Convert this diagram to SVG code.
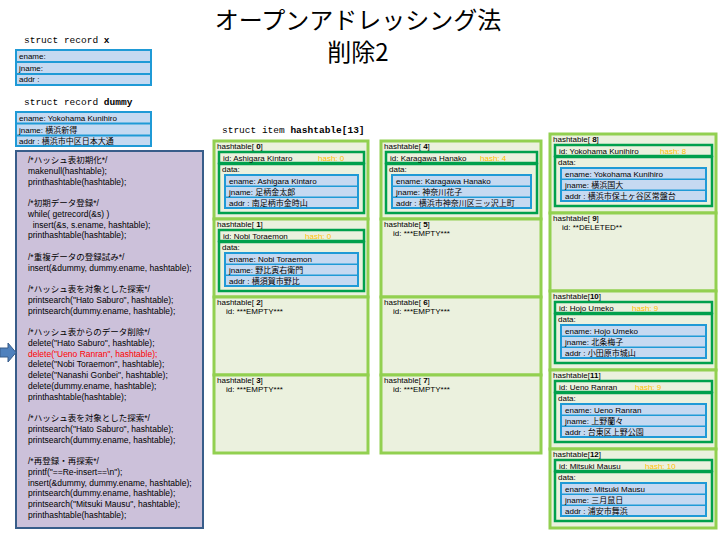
<svg xmlns="http://www.w3.org/2000/svg" width="720" height="540" viewBox="0 0 720 540">
<style>
.t{font-family:"Liberation Sans","Noto Sans CJK JP",sans-serif;font-size:8px;fill:#000}
.c{font-family:"Liberation Sans","Noto Sans CJK JP",sans-serif;font-size:8.5px;fill:#000}
.m{font-family:"Liberation Mono","Noto Sans CJK JP",monospace;font-size:9.5px;fill:#000}
.b{font-weight:bold}
.h{fill:#ffc000}
.red{fill:#ff0000}
.slot{fill:#ebf1de;stroke:#92d050;stroke-width:3}
.g{fill:#ebf1de;stroke:#00a04c;stroke-width:2.5}
.bl{fill:#1f9ad6}
.row{fill:#c5d9f1}
.code{fill:#ccc1da;stroke:#385d8a;stroke-width:2}
.title{font-family:"Noto Sans CJK JP",sans-serif;font-size:24px;fill:#000}
</style>
<rect width="720" height="540" fill="#fff"/>
<g id="title">
<text class="title" x="358" y="29" text-anchor="middle">オープンアドレッシング法</text>
<text class="title" x="358" y="61" text-anchor="middle">削除2</text>
</g>
<g id="record-x">
<text class="m" x="24" y="43">struct record <tspan class="b">x</tspan></text>
<rect class="bl" x="15" y="49" width="137" height="37"/>
<rect class="row" x="17" y="51" width="133" height="10"/>
<rect class="row" x="17" y="63" width="133" height="10"/>
<rect class="row" x="17" y="75" width="133" height="9"/>
<text class="t" x="19" y="59">ename:</text>
<text class="t" x="19" y="71">jname:</text>
<text class="t" x="19" y="82">addr :</text>
</g>
<g id="record-dummy">
<text class="m" x="24" y="105">struct record <tspan class="b">dummy</tspan></text>
<rect class="bl" x="15" y="111" width="137" height="36"/>
<rect class="row" x="17" y="113" width="133" height="9.5"/>
<rect class="row" x="17" y="124.5" width="133" height="10"/>
<rect class="row" x="17" y="136.5" width="133" height="8.5"/>
<text class="t" x="19" y="121">ename: Yokohama Kunihiro</text>
<text class="t" x="19" y="132.5">jname: 横浜新得</text>
<text class="t" x="19" y="143.5">addr : 横浜市中区日本大通</text>
</g>
<g id="code">
<rect class="code" x="16" y="151" width="187" height="377"/>
<text class="c" x="28" y="163">/*ハッシュ表初期化*/</text>
<text class="c" x="28" y="173.75">makenull(hashtable);</text>
<text class="c" x="28" y="184.5">printhashtable(hashtable);</text>
<text class="c" x="28" y="206">/*初期データ登録*/</text>
<text class="c" x="28" y="216.75">while( getrecord(&amp;s) )</text>
<text class="c" x="28" y="227.5" xml:space="preserve">  insert(&amp;s, s.ename, hashtable);</text>
<text class="c" x="28" y="238.25">printhashtable(hashtable);</text>
<text class="c" x="28" y="259.75">/*重複データの登録試み*/</text>
<text class="c" x="28" y="270.5">insert(&amp;dummy, dummy.ename, hashtable);</text>
<text class="c" x="28" y="292">/*ハッシュ表を対象とした探索*/</text>
<text class="c" x="28" y="302.75">printsearch("Hato Saburo", hashtable);</text>
<text class="c" x="28" y="313.5">printsearch(dummy.ename, hashtable);</text>
<text class="c" x="28" y="335">/*ハッシュ表からのデータ削除*/</text>
<text class="c" x="28" y="345.75">delete("Hato Saburo", hashtable);</text>
<text class="c red" x="28" y="356.5">delete("Ueno Ranran", hashtable);</text>
<text class="c" x="28" y="367.25">delete("Nobi Toraemon", hashtable);</text>
<text class="c" x="28" y="378">delete("Nanashi Gonbei", hashtable);</text>
<text class="c" x="28" y="388.75">delete(dummy.ename, hashtable);</text>
<text class="c" x="28" y="399.5">printhashtable(hashtable);</text>
<text class="c" x="28" y="421">/*ハッシュ表を対象とした探索*/</text>
<text class="c" x="28" y="431.75">printsearch("Hato Saburo", hashtable);</text>
<text class="c" x="28" y="442.5">printsearch(dummy.ename, hashtable);</text>
<text class="c" x="28" y="464">/*再登録・再探索*/</text>
<text class="c" x="28" y="474.75">printf("==Re-insert==\n");</text>
<text class="c" x="28" y="485.5">insert(&amp;dummy, dummy.ename, hashtable);</text>
<text class="c" x="28" y="496.25">printsearch(dummy.ename, hashtable);</text>
<text class="c" x="28" y="507">printsearch("Mitsuki Mausu", hashtable);</text>
<text class="c" x="28" y="517.75">printhashtable(hashtable);</text>
</g>
<g id="connectors">
<path d="M0,348 H8 V343 L16,352.5 L8,362 V357 H0 Z" fill="#4f81bd" stroke="#385d8a" stroke-width="1"/>
</g>
<text class="m" x="222" y="133">struct item <tspan class="b">hashtable[13]</tspan></text>
<g id="slot0" transform="translate(214,141)">
<rect class="slot" width="154" height="78"/>
<text class="t" x="3" y="8">hashtable[ <tspan class="b">0</tspan>]</text>
<rect class="g" x="5" y="11" width="145" height="11"/>
<text class="t" x="9" y="19.5">id: Ashigara Kintaro</text><text class="t h" x="104" y="19.5">hash: 0</text>
<rect class="g" x="5" y="23" width="145" height="49"/>
<text class="t" x="8" y="31">data:</text>
<rect class="bl" x="10" y="33" width="135" height="35"/>
<rect class="row" x="12" y="35" width="131" height="9.5"/>
<rect class="row" x="12" y="46" width="131" height="9.5"/>
<rect class="row" x="12" y="57" width="131" height="9"/>
<text class="t" x="15" y="42.5">ename: Ashigara Kintaro</text>
<text class="t" x="15" y="53.5">jname: 足柄金太郎</text>
<text class="t" x="15" y="64.5">addr : 南足柄市金時山</text>
</g>
<g id="slot1" transform="translate(214,219)">
<rect class="slot" width="154" height="78"/>
<text class="t" x="3" y="8">hashtable[ <tspan class="b">1</tspan>]</text>
<rect class="g" x="5" y="11" width="145" height="11"/>
<text class="t" x="9" y="19.5">id: Nobi Toraemon</text><text class="t h" x="91" y="19.5">hash: 0</text>
<rect class="g" x="5" y="23" width="145" height="49"/>
<text class="t" x="8" y="31">data:</text>
<rect class="bl" x="10" y="33" width="135" height="35"/>
<rect class="row" x="12" y="35" width="131" height="9.5"/>
<rect class="row" x="12" y="46" width="131" height="9.5"/>
<rect class="row" x="12" y="57" width="131" height="9"/>
<text class="t" x="15" y="42.5">ename: Nobi Toraemon</text>
<text class="t" x="15" y="53.5">jname: 野比寅右衛門</text>
<text class="t" x="15" y="64.5">addr : 横須賀市野比</text>
</g>
<g id="slot2" transform="translate(214,297)">
<rect class="slot" width="154" height="78"/>
<text class="t" x="3" y="8">hashtable[ <tspan class="b">2</tspan>]</text>
<text class="t" x="12" y="17">id: ***EMPTY***</text>
</g>
<g id="slot3" transform="translate(214,375)">
<rect class="slot" width="154" height="78"/>
<text class="t" x="3" y="8">hashtable[ <tspan class="b">3</tspan>]</text>
<text class="t" x="12" y="17">id: ***EMPTY***</text>
</g>
<g id="slot4" transform="translate(381,141)">
<rect class="slot" width="160" height="78"/>
<text class="t" x="3" y="8">hashtable[ <tspan class="b">4</tspan>]</text>
<rect class="g" x="5" y="11" width="151" height="11"/>
<text class="t" x="9" y="19.5">id: Karagawa Hanako</text><text class="t h" x="99" y="19.5">hash: 4</text>
<rect class="g" x="5" y="23" width="151" height="49"/>
<text class="t" x="8" y="31">data:</text>
<rect class="bl" x="10" y="33" width="141" height="35"/>
<rect class="row" x="12" y="35" width="137" height="9.5"/>
<rect class="row" x="12" y="46" width="137" height="9.5"/>
<rect class="row" x="12" y="57" width="137" height="9"/>
<text class="t" x="15" y="42.5">ename: Karagawa Hanako</text>
<text class="t" x="15" y="53.5">jname: 神奈川花子</text>
<text class="t" x="15" y="64.5">addr : 横浜市神奈川区三ッ沢上町</text>
</g>
<g id="slot5" transform="translate(381,219)">
<rect class="slot" width="160" height="78"/>
<text class="t" x="3" y="8">hashtable[ <tspan class="b">5</tspan>]</text>
<text class="t" x="12" y="17">id: ***EMPTY***</text>
</g>
<g id="slot6" transform="translate(381,297)">
<rect class="slot" width="160" height="78"/>
<text class="t" x="3" y="8">hashtable[ <tspan class="b">6</tspan>]</text>
<text class="t" x="12" y="17">id: ***EMPTY***</text>
</g>
<g id="slot7" transform="translate(381,375)">
<rect class="slot" width="160" height="78"/>
<text class="t" x="3" y="8">hashtable[ <tspan class="b">7</tspan>]</text>
<text class="t" x="12" y="17">id: ***EMPTY***</text>
</g>
<g id="slot8" transform="translate(550,134)">
<rect class="slot" width="166" height="79"/>
<text class="t" x="3" y="8">hashtable[ <tspan class="b">8</tspan>]</text>
<rect class="g" x="5" y="11" width="157" height="11"/>
<text class="t" x="9" y="19.5">id: Yokohama Kunihiro</text><text class="t h" x="110" y="19.5">hash: 8</text>
<rect class="g" x="5" y="23" width="157" height="49"/>
<text class="t" x="8" y="31">data:</text>
<rect class="bl" x="10" y="33" width="147" height="35"/>
<rect class="row" x="12" y="35" width="143" height="9.5"/>
<rect class="row" x="12" y="46" width="143" height="9.5"/>
<rect class="row" x="12" y="57" width="143" height="9"/>
<text class="t" x="15" y="42.5">ename: Yokohama Kunihiro</text>
<text class="t" x="15" y="53.5">jname: 横浜国大</text>
<text class="t" x="15" y="64.5">addr : 横浜市保土ヶ谷区常盤台</text>
</g>
<g id="slot9" transform="translate(550,213)">
<rect class="slot" width="166" height="78"/>
<text class="t" x="3" y="8">hashtable[ <tspan class="b">9</tspan>]</text>
<text class="t" x="12" y="17">id: **DELETED**</text>
</g>
<g id="slot10" transform="translate(550,291)">
<rect class="slot" width="166" height="79"/>
<text class="t" x="3" y="8">hashtable[<tspan class="b">10</tspan>]</text>
<rect class="g" x="5" y="11" width="157" height="11"/>
<text class="t" x="9" y="19.5">id: Hojo Umeko</text><text class="t h" x="82" y="19.5">hash: 9</text>
<rect class="g" x="5" y="23" width="157" height="49"/>
<text class="t" x="8" y="31">data:</text>
<rect class="bl" x="10" y="33" width="147" height="35"/>
<rect class="row" x="12" y="35" width="143" height="9.5"/>
<rect class="row" x="12" y="46" width="143" height="9.5"/>
<rect class="row" x="12" y="57" width="143" height="9"/>
<text class="t" x="15" y="42.5">ename: Hojo Umeko</text>
<text class="t" x="15" y="53.5">jname: 北条梅子</text>
<text class="t" x="15" y="64.5">addr : 小田原市城山</text>
</g>
<g id="slot11" transform="translate(550,370)">
<rect class="slot" width="166" height="79"/>
<text class="t" x="3" y="8">hashtable[<tspan class="b">11</tspan>]</text>
<rect class="g" x="5" y="11" width="157" height="11"/>
<text class="t" x="9" y="19.5">id: Ueno Ranran</text><text class="t h" x="85" y="19.5">hash: 9</text>
<rect class="g" x="5" y="23" width="157" height="49"/>
<text class="t" x="8" y="31">data:</text>
<rect class="bl" x="10" y="33" width="147" height="35"/>
<rect class="row" x="12" y="35" width="143" height="9.5"/>
<rect class="row" x="12" y="46" width="143" height="9.5"/>
<rect class="row" x="12" y="57" width="143" height="9"/>
<text class="t" x="15" y="42.5">ename: Ueno Ranran</text>
<text class="t" x="15" y="53.5">jname: 上野蘭々</text>
<text class="t" x="15" y="64.5">addr : 台東区上野公園</text>
</g>
<g id="slot12" transform="translate(550,449)">
<rect class="slot" width="166" height="79"/>
<text class="t" x="3" y="8">hashtable[<tspan class="b">12</tspan>]</text>
<rect class="g" x="5" y="11" width="157" height="11"/>
<text class="t" x="9" y="19.5">id: Mitsuki Mausu</text><text class="t h" x="95" y="19.5">hash: 10</text>
<rect class="g" x="5" y="23" width="157" height="49"/>
<text class="t" x="8" y="31">data:</text>
<rect class="bl" x="10" y="33" width="147" height="35"/>
<rect class="row" x="12" y="35" width="143" height="9.5"/>
<rect class="row" x="12" y="46" width="143" height="9.5"/>
<rect class="row" x="12" y="57" width="143" height="9"/>
<text class="t" x="15" y="42.5">ename: Mitsuki Mausu</text>
<text class="t" x="15" y="53.5">jname: 三月鼠日</text>
<text class="t" x="15" y="64.5">addr : 浦安市舞浜</text>
</g>
</svg>
